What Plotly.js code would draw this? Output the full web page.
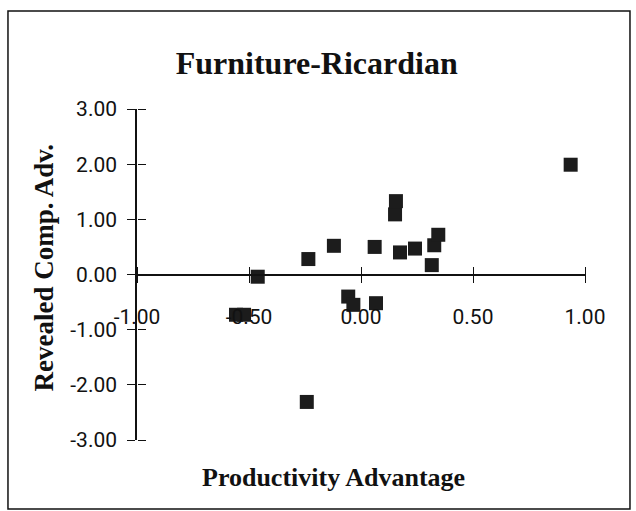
<!DOCTYPE html>
<html>
<head>
<meta charset="utf-8">
<script src="https://cdn.plot.ly/plotly-3.0.1.min.js"></script>
<style>
  html, body { margin: 0; padding: 0; background: #fff; }
  #chart { width: 636px; height: 511px; }
</style>
</head>
<body>
<div id="chart"></div>
<script>
// productivity advantage vs revealed comparative advantage
var prodAdv = [-0.558, -0.522, -0.461, -0.235, -0.242, -0.121, -0.057, -0.034, 0.061, 0.067,
               0.152, 0.156, 0.174, 0.241, 0.316, 0.327, 0.345, 0.936];
var rca     = [-0.73, -0.73, -0.04, 0.28, -2.31, 0.52, -0.40, -0.55, 0.50, -0.52,
               1.09, 1.33, 0.40, 0.47, 0.17, 0.53, 0.72, 1.99];

var xTicks = [-1, -0.5, 0, 0.5, 1];
var xTickText = ['-1.00', '-0.50', '0.00', '0.50', '1.00'];
var yTicks = [-3, -2, -1, 0, 1, 2, 3];
var yTickText = ['-3.00', '-2.00', '-1.00', '0.00', '1.00', '2.00', '3.00'];

var tickFont = {family: 'Roboto, Liberation Sans, sans-serif', size: 21, color: '#111'};
var titleFont = {family: 'Liberation Serif, Times New Roman, serif', color: '#111', weight: 'bold'};

var pts = {
    type: 'scatter',
    mode: 'markers',
    x: prodAdv,
    y: rca,
    xaxis: 'x',
    yaxis: 'y',
    marker: {
        symbol: 'square',
        size: 14,
        color: '#1c1c1c',
        line: {width: 0}
    },
    hoverinfo: 'x+y'
};

// invisible copy on the second pair of axes: they give the other half of the crossing ticks
var helper = {
    type: 'scatter', mode: 'markers', x: prodAdv, y: rca,
    xaxis: 'x2', yaxis: 'y2', showlegend: false, hoverinfo: 'skip',
    marker: {opacity: 0, size: 1}
};

var tickStyle = {ticklen: 8, tickwidth: 1.2, tickcolor: '#111'};

var layout = {
    width: 636,
    height: 511,
    margin: {l: 137, r: 51, t: 109, b: 71, pad: 0},
    paper_bgcolor: '#fff',
    plot_bgcolor: 'rgba(0,0,0,0)',
    showlegend: false,
    title: {
        text: 'Furniture-Ricardian',
        font: Object.assign({size: 32}, titleFont),
        xref: 'container', yref: 'container',
        x: 0.498, y: 0.877, xanchor: 'center', yanchor: 'middle'
    },
    xaxis: Object.assign({
        range: [-1, 1],
        anchor: 'free',
        position: 0.5,
        showgrid: false,
        zeroline: false,
        showline: true,
        linecolor: '#111',
        linewidth: 1.5,
        ticks: 'outside',
        tickvals: xTicks,
        ticktext: xTickText,
        tickfont: tickFont,
        ticklabelstandoff: 16,
        fixedrange: true
    }, tickStyle),
    yaxis: Object.assign({
        range: [-3, 3],
        domain: [0, 1],
        anchor: 'x',
        showgrid: false,
        zeroline: false,
        showline: true,
        linecolor: '#111',
        linewidth: 1.5,
        ticks: 'outside',
        tickvals: yTicks,
        ticktext: yTickText,
        tickfont: tickFont,
        ticklabelstandoff: 6,
        fixedrange: true
    }, tickStyle),
    xaxis2: Object.assign({
        range: [-1, 1],
        overlaying: 'x',
        side: 'top',
        anchor: 'free',
        position: 0.5,
        showgrid: false,
        zeroline: false,
        showline: false,
        ticks: 'outside',
        tickvals: xTicks,
        showticklabels: false,
        fixedrange: true
    }, tickStyle),
    yaxis2: Object.assign({
        range: [-3, 3],
        overlaying: 'y',
        side: 'right',
        anchor: 'free',
        position: 0,
        showgrid: false,
        zeroline: false,
        showline: false,
        ticks: 'outside',
        tickvals: yTicks,
        showticklabels: false,
        fixedrange: true
    }, tickStyle),
    annotations: [
        {
            text: 'Productivity Advantage',
            xref: 'paper', yref: 'paper',
            x: 0.4375, y: -0.112,
            xanchor: 'center', yanchor: 'middle',
            showarrow: false,
            font: Object.assign({size: 26}, titleFont)
        },
        {
            text: 'Revealed Comp. Adv.',
            xref: 'paper', yref: 'paper',
            x: -0.2076, y: 0.521,
            xanchor: 'center', yanchor: 'middle',
            textangle: -90,
            showarrow: false,
            font: Object.assign({size: 27}, titleFont)
        }
    ],
    shapes: [
        {
            type: 'rect',
            xref: 'paper', yref: 'paper',
            x0: -0.288, x1: 1.1004, y0: -0.2085, y1: 1.296,
            line: {color: '#111', width: 1.5},
            fillcolor: 'rgba(0,0,0,0)',
            layer: 'below'
        }
    ]
};

Plotly.newPlot('chart', [pts, helper], layout, {displayModeBar: false, responsive: false});
</script>
</body>
</html>
